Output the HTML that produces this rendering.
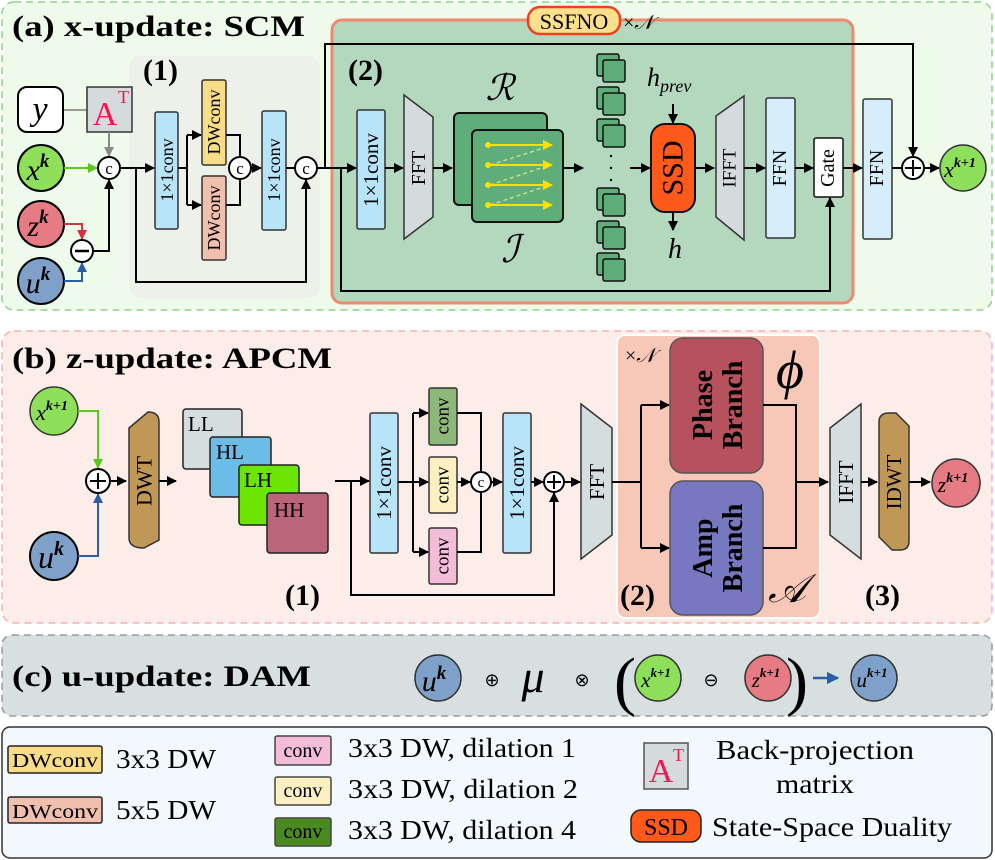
<!DOCTYPE html>
<html><head><meta charset="utf-8"><style>
html,body{margin:0;padding:0;background:#fff}
svg{display:block}
text{font-family:"Liberation Serif","Times New Roman",serif}
.t{font-weight:bold;font-size:30px}
.r{font-size:18px}
.lg{font-size:27px}
</style></head><body>
<svg width="995" height="860" viewBox="0 0 995 860" xmlns="http://www.w3.org/2000/svg" font-family="'Liberation Serif','Times New Roman',serif">
<defs>
<marker id="a" viewBox="0 0 10 10" refX="9" refY="5" markerWidth="5" markerHeight="5" orient="auto"><path d="M0,0L10,5L0,10z" fill="#000"/></marker>
<marker id="ag" viewBox="0 0 10 10" refX="9" refY="5" markerWidth="5" markerHeight="5" orient="auto"><path d="M0,0L10,5L0,10z" fill="#888"/></marker>
<marker id="agr" viewBox="0 0 10 10" refX="9" refY="5" markerWidth="5" markerHeight="5" orient="auto"><path d="M0,0L10,5L0,10z" fill="#5ac81e"/></marker>
<marker id="ar" viewBox="0 0 10 10" refX="9" refY="5" markerWidth="5" markerHeight="5" orient="auto"><path d="M0,0L10,5L0,10z" fill="#d83040"/></marker>
<marker id="ab" viewBox="0 0 10 10" refX="9" refY="5" markerWidth="5" markerHeight="5" orient="auto"><path d="M0,0L10,5L0,10z" fill="#2a5ca8"/></marker>
<marker id="ay" viewBox="0 0 10 10" refX="9" refY="5" markerWidth="5" markerHeight="5" orient="auto"><path d="M0,0L10,5L0,10z" fill="#ffe000"/></marker>
</defs>

<!-- ============ Panel (a) ============ -->
<rect x="2" y="2" width="990" height="308" rx="12" fill="#eefbea" stroke="#8fd18a" stroke-width="1.5" stroke-dasharray="7,5"/>
<text x="12" y="36" class="t" textLength="293" lengthAdjust="spacingAndGlyphs">(a) x-update: SCM</text>
<rect x="129" y="56" width="191" height="242" rx="12" fill="#eef1ea"/>
<text x="143" y="80" class="t">(1)</text>
<rect x="332" y="20" width="521" height="283" rx="10" fill="#b3d8bd" stroke="#f08a6e" stroke-width="3"/>
<text x="348" y="80" class="t">(2)</text>
<rect x="528" y="7" width="92" height="27" rx="12" fill="#fde08e" stroke="#f04020" stroke-width="2.5"/>
<text x="574" y="29" font-size="22" text-anchor="middle">SSFNO</text>
<text x="623" y="29" font-size="20">×<tspan font-style="italic">𝒩</tspan></text>

<!-- inputs -->
<line x1="63" y1="110" x2="87" y2="110" stroke="#999" stroke-width="2"/>
<rect x="18" y="87" width="45" height="45" rx="9" fill="#fff" stroke="#000" stroke-width="2"/>
<text x="40" y="120" font-size="34" font-style="italic" text-anchor="middle">y</text>
<rect x="87" y="87" width="45" height="45" fill="#d5dbdc" stroke="#333" stroke-width="1.5"/>
<text x="105" y="125" font-size="34" fill="#ff1050" text-anchor="middle" font-family="Liberation Sans">A</text>
<text x="118" y="103" font-size="18" fill="#ff1050" font-family="Liberation Sans">T</text>
<line x1="109" y1="132" x2="109" y2="156" stroke="#888" stroke-width="2" marker-end="url(#ag)"/>
<circle cx="41" cy="168" r="23" fill="#8ee05a" stroke="#000" stroke-width="2"/>
<text x="38" y="180" font-size="30" font-style="italic" text-anchor="middle">x<tspan font-size="19" dy="-13" font-weight="bold">k</tspan></text>
<circle cx="41" cy="224" r="23" fill="#e67b84" stroke="#000" stroke-width="2"/>
<text x="38" y="236" font-size="30" font-style="italic" text-anchor="middle">z<tspan font-size="19" dy="-13" font-weight="bold">k</tspan></text>
<circle cx="41" cy="281" r="23" fill="#7fa0c8" stroke="#000" stroke-width="2"/>
<text x="38" y="293" font-size="30" font-style="italic" text-anchor="middle">u<tspan font-size="19" dy="-13" font-weight="bold">k</tspan></text>
<line x1="64" y1="168" x2="97" y2="168" stroke="#5ac81e" stroke-width="2" marker-end="url(#agr)"/>
<polyline points="64,224 82,224 82,239" fill="none" stroke="#d83040" stroke-width="2" marker-end="url(#ar)"/>
<polyline points="64,281 82,281 82,263" fill="none" stroke="#2a5ca8" stroke-width="2" marker-end="url(#ab)"/>
<polyline points="93,251 109,251 109,180" fill="none" stroke="#000" stroke-width="2" marker-end="url(#a)"/>
<circle cx="82" cy="251" r="11" fill="#fff" stroke="#000" stroke-width="2"/>
<line x1="75" y1="251" x2="89" y2="251" stroke="#000" stroke-width="2.5"/>
<circle cx="109" cy="168" r="11" fill="#fff" stroke="#000" stroke-width="2"/>
<text x="109" y="174" font-size="17" text-anchor="middle">c</text>

<!-- SCM (1) -->
<line x1="120" y1="168" x2="154" y2="168" stroke="#000" stroke-width="2" marker-end="url(#a)"/>
<polyline points="136,168 136,282 306,282 306,180" fill="none" stroke="#000" stroke-width="2" marker-end="url(#a)"/>
<rect x="155" y="112" width="23" height="117" rx="2" fill="#b8e4fa" stroke="#333" stroke-width="1.5"/>
<text class="r" transform="translate(167,170) rotate(-90)" text-anchor="middle" dominant-baseline="central">1×1conv</text>
<line x1="178" y1="168" x2="187" y2="168" stroke="#000" stroke-width="2"/>
<polyline points="187,135 187,205" fill="none" stroke="#000" stroke-width="2"/>
<line x1="187" y1="135" x2="201" y2="135" stroke="#000" stroke-width="2" marker-end="url(#a)"/>
<line x1="187" y1="205" x2="201" y2="205" stroke="#000" stroke-width="2" marker-end="url(#a)"/>
<rect x="202" y="80" width="24" height="85" rx="2" fill="#f8dc88" stroke="#333" stroke-width="1.5"/>
<text class="r" transform="translate(214,122) rotate(-90)" text-anchor="middle" dominant-baseline="central">DWconv</text>
<rect x="202" y="176" width="24" height="84" rx="2" fill="#f0bfae" stroke="#333" stroke-width="1.5"/>
<text class="r" transform="translate(214,218) rotate(-90)" text-anchor="middle" dominant-baseline="central">DWconv</text>
<polyline points="226,135 240,135 240,157" fill="none" stroke="#000" stroke-width="2"/>
<polyline points="226,205 240,205 240,179" fill="none" stroke="#000" stroke-width="2"/>
<circle cx="240" cy="168" r="11" fill="#fff" stroke="#000" stroke-width="2"/>
<text x="240" y="174" font-size="17" text-anchor="middle">c</text>
<line x1="251" y1="168" x2="261" y2="168" stroke="#000" stroke-width="2" marker-end="url(#a)"/>
<rect x="262" y="111" width="24" height="119" rx="2" fill="#b8e4fa" stroke="#333" stroke-width="1.5"/>
<text class="r" transform="translate(274,170) rotate(-90)" text-anchor="middle" dominant-baseline="central">1×1conv</text>
<line x1="286" y1="168" x2="295" y2="168" stroke="#000" stroke-width="2"/>
<circle cx="306" cy="168" r="11" fill="#fff" stroke="#000" stroke-width="2"/>
<text x="306" y="174" font-size="17" text-anchor="middle">c</text>

<!-- SSFNO (2) -->
<line x1="317" y1="168" x2="356" y2="168" stroke="#000" stroke-width="2" marker-end="url(#a)"/>
<polyline points="325,168 325,44 913,44 913,156" fill="none" stroke="#000" stroke-width="2" marker-end="url(#a)"/>
<polyline points="341,168 341,291 830,291 830,198" fill="none" stroke="#000" stroke-width="2" marker-end="url(#a)"/>
<rect x="357" y="110" width="28" height="119" rx="2" fill="#b8e4fa" stroke="#333" stroke-width="1.5"/>
<text font-size="21" transform="translate(371,170) rotate(-90)" text-anchor="middle" dominant-baseline="central">1×1conv</text>
<line x1="385" y1="168" x2="403" y2="168" stroke="#000" stroke-width="2" marker-end="url(#a)"/>
<polygon points="404,95 433,117 433,217 404,239" fill="#d5dbdc" stroke="#333" stroke-width="1.5"/>
<text font-size="20" transform="translate(419,168) rotate(-90)" text-anchor="middle" dominant-baseline="central">FFT</text>
<line x1="433" y1="168" x2="452" y2="168" stroke="#000" stroke-width="2" marker-end="url(#a)"/>
<text x="500" y="100" font-size="36" font-style="italic" text-anchor="middle" font-family="DejaVu Serif">ℛ</text>
<text x="510" y="262" font-size="38" font-style="italic" text-anchor="middle" font-family="DejaVu Serif">ℐ</text>
<rect x="454" y="113" width="93" height="92" rx="5" fill="#5fad79" stroke="#111" stroke-width="2"/>
<rect x="472" y="130" width="91" height="92" rx="5" fill="#5fad79" stroke="#111" stroke-width="2"/>
<g stroke="#c8e080" stroke-width="1.5" stroke-dasharray="4,3">
<line x1="490" y1="165" x2="550" y2="146"/><line x1="490" y1="185" x2="550" y2="165"/><line x1="490" y1="205" x2="550" y2="185"/>
</g>
<g stroke="#ffe000" stroke-width="2">
<line x1="488" y1="145" x2="552" y2="145" marker-end="url(#ay)"/>
<line x1="488" y1="165" x2="552" y2="165" marker-end="url(#ay)"/>
<line x1="488" y1="185" x2="552" y2="185" marker-end="url(#ay)"/>
<line x1="488" y1="205" x2="552" y2="205" marker-end="url(#ay)"/>
</g>
<g fill="#ffe000"><circle cx="488" cy="145" r="3"/><circle cx="488" cy="165" r="3"/><circle cx="488" cy="185" r="3"/><circle cx="488" cy="205" r="3"/></g>
<line x1="563" y1="168" x2="583" y2="168" stroke="#000" stroke-width="2" marker-end="url(#a)"/>
<g fill="#5fad79" stroke="#111" stroke-width="1.5">
<rect x="597" y="54" width="22" height="22" rx="2"/><rect x="603" y="60" width="22" height="22" rx="2"/>
<rect x="597" y="87" width="22" height="22" rx="2"/><rect x="603" y="93" width="22" height="22" rx="2"/>
<rect x="597" y="119" width="22" height="22" rx="2"/><rect x="603" y="125" width="22" height="22" rx="2"/>
<rect x="597" y="188" width="22" height="22" rx="2"/><rect x="603" y="194" width="22" height="22" rx="2"/>
<rect x="597" y="221" width="22" height="22" rx="2"/><rect x="603" y="227" width="22" height="22" rx="2"/>
<rect x="597" y="253" width="22" height="22" rx="2"/><rect x="603" y="259" width="22" height="22" rx="2"/>
</g>
<g fill="#000"><circle cx="611" cy="156" r="1.2"/><circle cx="611" cy="168" r="1.2"/><circle cx="611" cy="180" r="1.2"/></g>
<line x1="630" y1="168" x2="650" y2="168" stroke="#000" stroke-width="2" marker-end="url(#a)"/>
<text x="647" y="86" font-size="26" font-style="italic">h<tspan font-size="18" dy="6">prev</tspan></text>
<line x1="673" y1="104" x2="673" y2="123" stroke="#000" stroke-width="2" marker-end="url(#a)"/>
<rect x="651" y="124" width="44" height="88" rx="14" fill="#ff5a1a" stroke="#111" stroke-width="2"/>
<text font-size="30" font-family="Liberation Sans" transform="translate(673,168) rotate(-90)" text-anchor="middle" dominant-baseline="central">SSD</text>
<line x1="673" y1="212" x2="673" y2="230" stroke="#000" stroke-width="2" marker-end="url(#a)"/>
<text x="675" y="258" font-size="28" font-style="italic" text-anchor="middle">h</text>
<line x1="695" y1="168" x2="714" y2="168" stroke="#000" stroke-width="2" marker-end="url(#a)"/>
<polygon points="716,116 744,96 744,240 716,217" fill="#d5dbdc" stroke="#333" stroke-width="1.5"/>
<text font-size="19" transform="translate(730,168) rotate(-90)" text-anchor="middle" dominant-baseline="central">IFFT</text>
<line x1="744" y1="168" x2="765" y2="168" stroke="#000" stroke-width="2" marker-end="url(#a)"/>
<rect x="766" y="98" width="29" height="140" rx="2" fill="#d6eefc" stroke="#333" stroke-width="1.5"/>
<text font-size="20" transform="translate(780,168) rotate(-90)" text-anchor="middle" dominant-baseline="central">FFN</text>
<line x1="795" y1="168" x2="813" y2="168" stroke="#000" stroke-width="2" marker-end="url(#a)"/>
<rect x="814" y="138" width="29" height="59" rx="2" fill="#fff" stroke="#111" stroke-width="1.5"/>
<text font-size="20" font-family="Liberation Sans" transform="translate(828,168) rotate(-90)" text-anchor="middle" dominant-baseline="central">Gate</text>
<line x1="843" y1="168" x2="862" y2="168" stroke="#000" stroke-width="2" marker-end="url(#a)"/>
<rect x="863" y="99" width="29" height="140" rx="2" fill="#d6eefc" stroke="#333" stroke-width="1.5"/>
<text font-size="20" transform="translate(877,168) rotate(-90)" text-anchor="middle" dominant-baseline="central">FFN</text>
<line x1="892" y1="168" x2="902" y2="168" stroke="#000" stroke-width="2"/>
<circle cx="913" cy="168" r="11" fill="#fff" stroke="#000" stroke-width="2"/>
<path d="M905,168H921M913,160V176" stroke="#000" stroke-width="2"/>
<line x1="924" y1="168" x2="939" y2="168" stroke="#000" stroke-width="2" marker-end="url(#a)"/>
<circle cx="963" cy="168" r="23" fill="#8ee05a" stroke="#333" stroke-width="1.5"/>
<text x="960" y="177" font-size="22" font-style="italic" text-anchor="middle">x<tspan font-size="14" dy="-10" font-weight="bold">k+1</tspan></text>

<!-- ============ Panel (b) ============ -->
<rect x="2" y="331" width="990" height="292" rx="12" fill="#fdede8" stroke="#f8b0b0" stroke-width="1.5" stroke-dasharray="7,5"/>
<text x="12" y="368" class="t" textLength="320" lengthAdjust="spacingAndGlyphs">(b) z-update: APCM</text>
<circle cx="54" cy="411" r="24" fill="#8ee05a" stroke="#333" stroke-width="1.5"/>
<text x="52" y="420" font-size="22" font-style="italic" text-anchor="middle">x<tspan font-size="14" dy="-10" font-weight="bold">k+1</tspan></text>
<circle cx="54" cy="556" r="24" fill="#7fa0c8" stroke="#000" stroke-width="2"/>
<text x="51" y="568" font-size="32" font-style="italic" text-anchor="middle">u<tspan font-size="20" dy="-13" font-weight="bold">k</tspan></text>
<polyline points="78,411 98,411 98,468" fill="none" stroke="#5ac81e" stroke-width="2" marker-end="url(#agr)"/>
<polyline points="78,556 98,556 98,494" fill="none" stroke="#2a5ca8" stroke-width="2" marker-end="url(#ab)"/>
<circle cx="98" cy="481" r="12" fill="#fff" stroke="#000" stroke-width="2"/>
<path d="M90,481H106M98,473V489" stroke="#000" stroke-width="2"/>
<line x1="110" y1="481" x2="126" y2="481" stroke="#000" stroke-width="2" marker-end="url(#a)"/>
<path d="M129,428 L148,412 Q159,412 159,422 L159,540 L144,548 Q129,548 129,538 Z" fill="#bf9858" stroke="#333" stroke-width="1.5"/>
<text font-size="22" transform="translate(144,481) rotate(-90)" text-anchor="middle" dominant-baseline="central">DWT</text>
<line x1="159" y1="481" x2="176" y2="481" stroke="#000" stroke-width="2" marker-end="url(#a)"/>
<rect x="183" y="409" width="59" height="60" rx="3" fill="#d5dedf" stroke="#222" stroke-width="1.5"/>
<text x="188" y="431" font-size="21">LL</text>
<rect x="210" y="437" width="61" height="60" rx="3" fill="#6bbde8" stroke="#222" stroke-width="1.5"/>
<text x="216" y="459" font-size="21">HL</text>
<rect x="239" y="465" width="60" height="60" rx="3" fill="#6ce600" stroke="#222" stroke-width="1.5"/>
<text x="244" y="487" font-size="21">LH</text>
<rect x="267" y="493" width="61" height="60" rx="3" fill="#bb6678" stroke="#222" stroke-width="1.5"/>
<text x="274" y="517" font-size="21">HH</text>
<text x="285" y="605" class="t">(1)</text>
<line x1="335" y1="481" x2="369" y2="481" stroke="#000" stroke-width="2" marker-end="url(#a)"/>
<polyline points="351,481 351,595 554,595 554,493" fill="none" stroke="#000" stroke-width="2" marker-end="url(#a)"/>
<rect x="370" y="413" width="28" height="140" rx="2" fill="#b8e4fa" stroke="#333" stroke-width="1.5"/>
<text font-size="21" transform="translate(384,483) rotate(-90)" text-anchor="middle" dominant-baseline="central">1×1conv</text>
<line x1="398" y1="482" x2="428" y2="482" stroke="#000" stroke-width="2" marker-end="url(#a)"/>
<polyline points="413,413 413,552" fill="none" stroke="#000" stroke-width="2"/>
<line x1="413" y1="413" x2="428" y2="413" stroke="#000" stroke-width="2" marker-end="url(#a)"/>
<line x1="413" y1="552" x2="428" y2="552" stroke="#000" stroke-width="2" marker-end="url(#a)"/>
<rect x="429" y="388" width="28" height="57" rx="2" fill="#8db87a" stroke="#333" stroke-width="1.5"/>
<text font-size="19" transform="translate(443,416) rotate(-90)" text-anchor="middle" dominant-baseline="central">conv</text>
<rect x="429" y="457" width="28" height="56" rx="2" fill="#fdf0c0" stroke="#333" stroke-width="1.5"/>
<text font-size="19" transform="translate(443,485) rotate(-90)" text-anchor="middle" dominant-baseline="central">conv</text>
<rect x="429" y="528" width="28" height="56" rx="2" fill="#f5bcd8" stroke="#333" stroke-width="1.5"/>
<text font-size="19" transform="translate(443,556) rotate(-90)" text-anchor="middle" dominant-baseline="central">conv</text>
<polyline points="457,413 481,413 481,472" fill="none" stroke="#000" stroke-width="2"/>
<polyline points="457,552 481,552 481,492" fill="none" stroke="#000" stroke-width="2"/>
<line x1="457" y1="482" x2="470" y2="482" stroke="#000" stroke-width="2" marker-end="url(#a)"/>
<circle cx="481" cy="482" r="10" fill="#fff" stroke="#000" stroke-width="2"/>
<text x="481" y="487" font-size="15" text-anchor="middle">c</text>
<line x1="491" y1="482" x2="502" y2="482" stroke="#000" stroke-width="2" marker-end="url(#a)"/>
<rect x="503" y="413" width="28" height="140" rx="2" fill="#b8e4fa" stroke="#333" stroke-width="1.5"/>
<text font-size="21" transform="translate(517,483) rotate(-90)" text-anchor="middle" dominant-baseline="central">1×1conv</text>
<line x1="531" y1="482" x2="543" y2="482" stroke="#000" stroke-width="2" marker-end="url(#a)"/>
<circle cx="554" cy="482" r="10" fill="#fff" stroke="#000" stroke-width="2"/>
<path d="M547,482H561M554,475V489" stroke="#000" stroke-width="2"/>
<line x1="564" y1="482" x2="580" y2="482" stroke="#000" stroke-width="2" marker-end="url(#a)"/>
<rect x="617" y="335" width="203" height="283" rx="8" fill="#f7c8b8" stroke="#fff" stroke-width="2"/>
<polygon points="581,404 612,428 612,535 581,559" fill="#d5dedf" stroke="#333" stroke-width="1.5"/>
<text font-size="21" transform="translate(597,482) rotate(-90)" text-anchor="middle" dominant-baseline="central">FFT</text>
<text x="625" y="362" font-size="20">×<tspan font-style="italic">𝒩</tspan></text>
<polyline points="612,482 641,482" fill="none" stroke="#000" stroke-width="2"/>
<polyline points="641,405 641,548" fill="none" stroke="#000" stroke-width="2"/>
<line x1="641" y1="405" x2="669" y2="405" stroke="#000" stroke-width="2" marker-end="url(#a)"/>
<line x1="641" y1="548" x2="669" y2="548" stroke="#000" stroke-width="2" marker-end="url(#a)"/>
<rect x="670" y="338" width="93" height="135" rx="13" fill="#b5525e" stroke="#555" stroke-width="1.5"/>
<text font-size="28" font-weight="bold" transform="translate(716,405) rotate(-90)" text-anchor="middle"><tspan x="0" dy="-4">Phase</tspan><tspan x="0" dy="30">Branch</tspan></text>
<rect x="670" y="481" width="93" height="134" rx="13" fill="#7878c0" stroke="#555" stroke-width="1.5"/>
<text font-size="28" font-weight="bold" transform="translate(716,548) rotate(-90)" text-anchor="middle"><tspan x="0" dy="-4">Amp</tspan><tspan x="0" dy="30">Branch</tspan></text>
<polyline points="763,405 796,405 796,548 763,548" fill="none" stroke="#000" stroke-width="2"/>
<line x1="796" y1="482" x2="828" y2="482" stroke="#000" stroke-width="2" marker-end="url(#a)"/>
<text x="790" y="388" font-size="54" font-style="italic" text-anchor="middle">ϕ</text>
<text x="787" y="602" font-size="40" font-style="italic" text-anchor="middle" font-family="DejaVu Serif">𝒜</text>
<text x="620" y="605" class="t">(2)</text>
<polygon points="830,428 861,404 861,559 830,535" fill="#d5dedf" stroke="#333" stroke-width="1.5"/>
<text font-size="21" transform="translate(846,482) rotate(-90)" text-anchor="middle" dominant-baseline="central">IFFT</text>
<line x1="861" y1="482" x2="877" y2="482" stroke="#000" stroke-width="2" marker-end="url(#a)"/>
<path d="M879,422 Q879,413 889,413 L896,413 L909,426 L909,541 Q909,550 900,550 L892,550 L879,537 Z" fill="#bf9858" stroke="#333" stroke-width="1.5"/>
<text font-size="21" transform="translate(894,482) rotate(-90)" text-anchor="middle" dominant-baseline="central">IDWT</text>
<line x1="909" y1="482" x2="930" y2="482" stroke="#000" stroke-width="2" marker-end="url(#a)"/>
<circle cx="956" cy="483" r="24" fill="#e67b84" stroke="#333" stroke-width="1.5"/>
<text x="953" y="492" font-size="22" font-style="italic" text-anchor="middle">z<tspan font-size="14" dy="-10" font-weight="bold">k+1</tspan></text>
<text x="865" y="605" class="t">(3)</text>

<!-- ============ Panel (c) ============ -->
<rect x="2" y="635" width="990" height="81" rx="10" fill="#d8dfe0" stroke="#9a9a9a" stroke-width="1.5" stroke-dasharray="7,5"/>
<text x="12" y="686" class="t" textLength="299" lengthAdjust="spacingAndGlyphs">(c) u-update: DAM</text>
<circle cx="438" cy="678" r="23" fill="#7fa0c8" stroke="#333" stroke-width="1.5"/>
<text x="434" y="691" font-size="30" font-style="italic" text-anchor="middle">u<tspan font-size="19" dy="-12" font-weight="bold">k</tspan></text>
<text x="492" y="686" font-size="18" text-anchor="middle">⊕</text>
<text x="533" y="692" font-size="46" font-style="italic" text-anchor="middle">μ</text>
<text x="582" y="686" font-size="18" text-anchor="middle">⊗</text>
<text x="625" y="703" font-size="66" text-anchor="middle">(</text>
<circle cx="658" cy="678" r="23" fill="#8ee05a" stroke="#333" stroke-width="1.5"/>
<text x="656" y="687" font-size="21" font-style="italic" text-anchor="middle">x<tspan font-size="13" dy="-10" font-weight="bold">k+1</tspan></text>
<text x="711" y="686" font-size="18" text-anchor="middle">⊖</text>
<circle cx="768" cy="678" r="23" fill="#e67b84" stroke="#333" stroke-width="1.5"/>
<text x="766" y="687" font-size="21" font-style="italic" text-anchor="middle">z<tspan font-size="13" dy="-10" font-weight="bold">k+1</tspan></text>
<text x="797" y="703" font-size="66" text-anchor="middle">)</text>
<line x1="813" y1="678" x2="838" y2="678" stroke="#2a5ca8" stroke-width="2.5" marker-end="url(#ab)"/>
<circle cx="874" cy="678" r="23" fill="#7fa0c8" stroke="#333" stroke-width="1.5"/>
<text x="872" y="687" font-size="21" font-style="italic" text-anchor="middle">u<tspan font-size="13" dy="-10" font-weight="bold">k+1</tspan></text>

<!-- ============ Legend ============ -->
<rect x="2" y="727" width="990" height="131" rx="8" fill="#f3f8fc" stroke="#333" stroke-width="1.5"/>
<rect x="8" y="746" width="94" height="27" rx="2" fill="#f8dc88" stroke="#222" stroke-width="1.5"/>
<text x="12" y="767" font-size="20" textLength="86" lengthAdjust="spacingAndGlyphs">DWconv</text>
<text x="116" y="768" class="lg" textLength="100" lengthAdjust="spacingAndGlyphs">3x3 DW</text>
<rect x="8" y="797" width="94" height="26" rx="2" fill="#f0bfae" stroke="#222" stroke-width="1.5"/>
<text x="12" y="818" font-size="20" textLength="86" lengthAdjust="spacingAndGlyphs">DWconv</text>
<text x="116" y="819" class="lg" textLength="100" lengthAdjust="spacingAndGlyphs">5x5 DW</text>
<rect x="275" y="736" width="56" height="29" rx="2" fill="#f5bcd8" stroke="#444" stroke-width="1.5"/>
<text x="303" y="757" font-size="20" text-anchor="middle">conv</text>
<text x="348" y="757" class="lg" textLength="228" lengthAdjust="spacingAndGlyphs">3x3 DW, dilation 1</text>
<rect x="275" y="777" width="56" height="28" rx="2" fill="#fdf0c0" stroke="#444" stroke-width="1.5"/>
<text x="303" y="797" font-size="20" text-anchor="middle">conv</text>
<text x="348" y="798" class="lg" textLength="230" lengthAdjust="spacingAndGlyphs">3x3 DW, dilation 2</text>
<rect x="275" y="818" width="56" height="28" rx="2" fill="#4a8a20" stroke="#444" stroke-width="1.5"/>
<text x="303" y="838" font-size="20" text-anchor="middle">conv</text>
<text x="348" y="839" class="lg" textLength="228" lengthAdjust="spacingAndGlyphs">3x3 DW, dilation 4</text>
<rect x="644" y="743" width="44" height="46" fill="#d5dbdc" stroke="#555" stroke-width="1.5"/>
<text x="661" y="782" font-size="34" fill="#ff1050" text-anchor="middle" font-family="Liberation Sans">A</text>
<text x="673" y="761" font-size="18" fill="#ff1050" font-family="Liberation Sans">T</text>
<text x="716" y="759" class="lg" textLength="198" lengthAdjust="spacingAndGlyphs">Back-projection</text>
<text x="776" y="793" class="lg" textLength="78" lengthAdjust="spacingAndGlyphs">matrix</text>
<rect x="631" y="810" width="70" height="32" rx="10" fill="#ff5a1a" stroke="#222" stroke-width="1.5"/>
<text x="666" y="835" font-size="24" font-family="Liberation Sans" text-anchor="middle">SSD</text>
<text x="712" y="836" class="lg" textLength="240" lengthAdjust="spacingAndGlyphs">State-Space Duality</text>
</svg>
</body></html>
